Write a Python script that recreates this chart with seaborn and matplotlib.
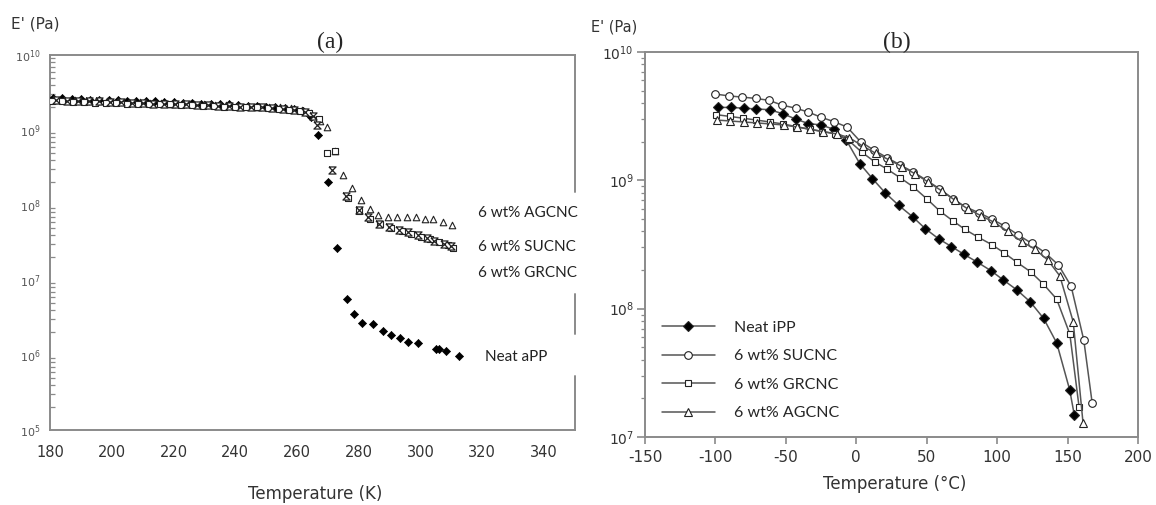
import numpy as np
import pandas as pd
import seaborn as sns
import matplotlib
matplotlib.use("Agg")
import matplotlib.pyplot as plt
from matplotlib.ticker import LogLocator, FixedLocator, NullFormatter

# ---------------- Panel (a) data: E' vs Temperature (K) ----------------
a_neat_T = [181, 184, 187, 190, 193, 196, 199, 202, 205, 208, 211, 214, 217, 220, 223, 226,
            229, 232, 235, 238, 241, 244, 247, 250, 253, 256, 259, 262, 264.5, 266.9, 270.1,
            272.9, 276.1, 278.5, 281.0, 284.6, 287.9, 290.5, 293.3, 296.0, 299.0, 305.0,
            305.8, 308.1, 312.4]
a_neat_E = [2.7e9, 2.65e9, 2.6e9, 2.6e9, 2.55e9, 2.55e9, 2.5e9, 2.5e9, 2.45e9, 2.45e9, 2.4e9,
            2.4e9, 2.35e9, 2.35e9, 2.3e9, 2.3e9, 2.25e9, 2.25e9, 2.2e9, 2.2e9, 2.15e9, 2.1e9,
            2.1e9, 2.05e9, 2.0e9, 1.95e9, 1.9e9, 1.8e9, 1.5e9, 8.6e8, 2.0e8, 2.7e7, 5.6e6,
            3.5e6, 2.7e6, 2.6e6, 2.1e6, 1.85e6, 1.7e6, 1.5e6, 1.45e6, 1.2e6, 1.2e6, 1.13e6,
            9.8e5]

a_su_T = [182, 185.5, 189, 192.5, 196, 199.5, 203, 206.5, 210, 213.5, 217, 220.5, 224, 227.5,
          231, 234.5, 238, 241.5, 245, 248.5, 252, 255.5, 259, 262.5, 265, 266.3, 271.2,
          275.9, 279.9, 283.1, 286.5, 289.8, 293, 296, 299, 302, 304.5, 307.5, 310]
a_su_E = [2.5e9, 2.45e9, 2.45e9, 2.4e9, 2.4e9, 2.35e9, 2.35e9, 2.3e9, 2.3e9, 2.25e9, 2.25e9,
          2.2e9, 2.2e9, 2.15e9, 2.15e9, 2.1e9, 2.1e9, 2.05e9, 2.0e9, 2.0e9, 1.95e9, 1.9e9,
          1.85e9, 1.75e9, 1.55e9, 1.15e9, 2.9e8, 1.3e8, 8.5e7, 6.9e7, 5.6e7, 5.1e7, 4.6e7,
          4.3e7, 4.0e7, 3.6e7, 3.35e7, 3.0e7, 2.8e7]

a_gr_T = [180.5, 184, 187.5, 191, 194.5, 198, 201.5, 205, 208.5, 212, 215.5, 219, 222.5, 226,
          229.5, 233, 236.5, 240, 243.5, 247, 250.5, 254, 257.5, 261, 264, 267, 269.8, 272.3,
          276.5, 280, 283.5, 287, 290.5, 294, 297, 300, 303, 306, 309, 310.5]
a_gr_E = [2.4e9, 2.4e9, 2.35e9, 2.35e9, 2.3e9, 2.3e9, 2.3e9, 2.25e9, 2.25e9, 2.2e9, 2.2e9,
          2.2e9, 2.15e9, 2.15e9, 2.1e9, 2.1e9, 2.05e9, 2.05e9, 2.0e9, 2.0e9, 1.95e9, 1.9e9,
          1.85e9, 1.8e9, 1.7e9, 1.4e9, 5.0e8, 5.3e8, 1.25e8, 8.2e7, 6.6e7, 5.5e7, 5.0e7,
          4.5e7, 4.1e7, 3.8e7, 3.5e7, 3.2e7, 2.9e7, 2.7e7]

a_ag_T = [181, 184.5, 188, 191.5, 195, 198.5, 202, 205.5, 209, 212.5, 216, 219.5, 223, 226.5,
          230, 233.5, 237, 240.5, 244, 247.5, 251, 254.5, 258, 261.5, 264.5, 267.5, 269.6,
          272.3, 275, 277.7, 280.7, 283.6, 286.3, 289.6, 292.5, 295.5, 298.5, 301.5, 304.1,
          307.2, 310.1]
a_ag_E = [2.55e9, 2.5e9, 2.5e9, 2.45e9, 2.45e9, 2.4e9, 2.4e9, 2.35e9, 2.35e9, 2.3e9, 2.3e9,
          2.25e9, 2.25e9, 2.2e9, 2.2e9, 2.15e9, 2.15e9, 2.1e9, 2.1e9, 2.05e9, 2.0e9, 2.0e9,
          1.95e9, 1.85e9, 1.7e9, 1.3e9, 1.1e9, 5.3e8, 2.5e8, 1.67e8, 1.15e8, 8.9e7, 7.4e7,
          7.0e7, 7.0e7, 6.85e7, 6.85e7, 6.6e7, 6.45e7, 6.0e7, 5.4e7]

a_labels = ["6 wt% AGCNC", "6 wt% SUCNC", "6 wt% GRCNC", "Neat aPP"]

# ---------------- Panel (b) data: E' vs Temperature (°C) ----------------
b_neat_T = [-98.5, -89, -80, -71, -61.5, -52, -43, -34, -25, -16, -7, 2.5, 11.5, 20.5, 30, 40,
            49, 58.5, 67.5, 76.5, 86, 95.5, 104.5, 114, 123.5, 133, 142.3, 151.5, 154.8]
b_neat_E = [3.7e9, 3.7e9, 3.65e9, 3.6e9, 3.55e9, 3.3e9, 3.0e9, 2.77e9, 2.7e9, 2.5e9, 2.05e9,
            1.35e9, 1.03e9, 8.0e8, 6.4e8, 5.2e8, 4.2e8, 3.5e8, 3.05e8, 2.65e8, 2.3e8, 1.98e8,
            1.67e8, 1.4e8, 1.13e8, 8.4e7, 5.4e7, 2.33e7, 1.48e7]

b_su_T = [-100, -90.5, -81, -71.5, -62, -52.5, -43, -34, -25, -16, -6.5, 3, 12.5, 22, 31, 40.5,
          50, 59, 68.5, 77.5, 87, 96, 105.5, 115, 124.5, 134, 143.5, 152.5, 161.5, 167.5]
b_su_E = [4.7e9, 4.55e9, 4.45e9, 4.35e9, 4.2e9, 3.85e9, 3.65e9, 3.4e9, 3.1e9, 2.87e9, 2.6e9,
          2.0e9, 1.72e9, 1.5e9, 1.32e9, 1.16e9, 1.0e9, 8.6e8, 7.2e8, 6.2e8, 5.6e8, 5.0e8,
          4.4e8, 3.75e8, 3.23e8, 2.73e8, 2.19e8, 1.5e8, 5.7e7, 1.83e7]

b_gr_T = [-99.5, -90, -80.5, -71, -61.5, -52, -42.5, -33, -24, -15, -5.7, 3.8, 13.2, 21.5, 31,
          40.4, 49.9, 59.4, 68.4, 77.1, 86.6, 96.1, 105, 114, 123.7, 132.7, 142.2, 151.6, 158.2]
b_gr_E = [3.25e9, 3.15e9, 3.05e9, 2.95e9, 2.85e9, 2.75e9, 2.62e9, 2.5e9, 2.4e9, 2.3e9, 2.06e9,
          1.66e9, 1.39e9, 1.23e9, 1.05e9, 8.9e8, 7.2e8, 5.75e8, 4.85e8, 4.15e8, 3.6e8, 3.16e8,
          2.72e8, 2.3e8, 1.94e8, 1.56e8, 1.19e8, 6.35e7, 1.7e7]

b_ag_T = [-99, -89.5, -80, -70.5, -61, -51.5, -42, -33, -23.5, -14, -5, 4.5, 14, 23, 32.5, 42,
          51, 60.5, 70, 79, 88.5, 98, 107.5, 117.5, 127, 136, 144.5, 154, 161]
b_ag_E = [2.95e9, 2.9e9, 2.85e9, 2.8e9, 2.75e9, 2.7e9, 2.6e9, 2.5e9, 2.4e9, 2.3e9, 2.15e9,
          1.85e9, 1.62e9, 1.45e9, 1.28e9, 1.12e9, 9.7e8, 8.3e8, 7.0e8, 6.0e8, 5.3e8, 4.7e8,
          4.0e8, 3.33e8, 2.9e8, 2.39e8, 1.8e8, 7.9e7, 1.28e7]

b_labels = ["Neat iPP", "6 wt% SUCNC", "6 wt% GRCNC", "6 wt% AGCNC"]

a_xticks = [180, 200, 220, 240, 260, 280, 300, 320, 340]
b_xticks = [-150, -100, -50, 0, 50, 100, 150, 200]

# ---------------- Figure ----------------
sns.set_style("white")
plt.rcParams["font.family"] = ["DejaVu Sans"]
plt.rcParams["axes.unicode_minus"] = False
W, H = 1156, 505
fig = plt.figure(figsize=(W / 100, H / 100), dpi=100)

def px_ax(l, r, t, b):
    return fig.add_axes([l / W, 1 - b / H, (r - l) / W, (b - t) / H])

ax_a = px_ax(50, 575, 55, 430)
ax_b = px_ax(645, 1138, 52, 437)

spine_c = "#8a8a8a"
tick_c = "#555555"
hourglass = [(-1, 1), (1, 1), (-1, -1), (1, -1), (-1, 1)]

# ---- Panel (a) ----
da = {
    "neat": pd.DataFrame({"T": a_neat_T, "E": a_neat_E}),
    "su": pd.DataFrame({"T": a_su_T, "E": a_su_E}),
    "gr": pd.DataFrame({"T": a_gr_T, "E": a_gr_E}),
    "ag": pd.DataFrame({"T": a_ag_T, "E": a_ag_E}),
}
sns.scatterplot(data=da["neat"], x="T", y="E", ax=ax_a, marker="D", s=17,
                color="black", edgecolor="black", linewidth=0.5, zorder=3)
sns.scatterplot(data=da["ag"], x="T", y="E", ax=ax_a, marker="^", s=22,
                color="white", edgecolor="#222222", linewidth=0.8, zorder=4)
sns.scatterplot(data=da["gr"], x="T", y="E", ax=ax_a, marker="s", s=20,
                color="white", edgecolor="#222222", linewidth=0.8, zorder=4)
sns.scatterplot(data=da["su"], x="T", y="E", ax=ax_a, marker=hourglass, s=26,
                color="white", edgecolor="#222222", linewidth=0.9, zorder=5)

XMIN_A, XMAX_A = 180, 350
ax_a.set_yscale("log")
ax_a.set_xlim(XMIN_A, XMAX_A)
ax_a.set_ylim(1e5, 1e10)
ax_a.xaxis.set_major_locator(FixedLocator(a_xticks))
ax_a.yaxis.set_major_locator(LogLocator(base=10, numticks=10))
ax_a.yaxis.set_minor_locator(LogLocator(base=10, subs=np.arange(2, 10), numticks=20))
ax_a.yaxis.set_minor_formatter(NullFormatter())
ax_a.set_xlabel("")
ax_a.set_ylabel("")
for s in ["left", "bottom", "top"]:
    ax_a.spines[s].set_color(spine_c)
    ax_a.spines[s].set_linewidth(1.4)
ax_a.spines["right"].set_visible(False)
for y0, y1 in [(0.636, 1.0), (0.257, 0.364), (0.0, 0.144)]:
    ax_a.axvline(XMAX_A, ymin=y0, ymax=y1, color=spine_c, lw=1.4, clip_on=False)
ax_a.tick_params(axis="x", which="major", direction="inout", length=9, width=1.2,
                 color=spine_c, labelsize=10.5, labelcolor="#333333", pad=6)
ax_a.tick_params(axis="y", which="major", direction="out", length=6, width=1.2,
                 color=spine_c, labelsize=8, labelcolor=tick_c, pad=1)
ax_a.tick_params(axis="y", which="minor", direction="in", length=3.5, width=0.9,
                 color=spine_c, left=True)

lab_font = dict(family=["Lato", "DejaVu Sans"], fontsize=11, color="#222222")
ax_a.text(0.815, 0.579, a_labels[0], transform=ax_a.transAxes, va="center", ha="left", **lab_font)
ax_a.text(0.815, 0.488, a_labels[1], transform=ax_a.transAxes, va="center", ha="left", **lab_font)
ax_a.text(0.815, 0.419, a_labels[2], transform=ax_a.transAxes, va="center", ha="left", **lab_font)
ax_a.text(0.829, 0.195, a_labels[3], transform=ax_a.transAxes, va="center", ha="left", **lab_font)

# ---- Panel (b) ----
line_c = "#555555"
series_b = [
    (b_neat_T, b_neat_E, "D", "black", 5.5, b_labels[0]),
    (b_su_T, b_su_E, "o", "white", 5.5, b_labels[1]),
    (b_gr_T, b_gr_E, "s", "white", 4.8, b_labels[2]),
    (b_ag_T, b_ag_E, "^", "white", 5.5, b_labels[3]),
]
for T, E, m, fc, ms, lab in series_b:
    sns.lineplot(x=T, y=E, ax=ax_b, sort=False, color=line_c, lw=1.1, marker=m,
                 markersize=ms, markerfacecolor=fc, markeredgecolor="#222222",
                 markeredgewidth=0.8, label=lab)

ax_b.set_yscale("log")
ax_b.set_xlim(-150, 200)
ax_b.set_ylim(1e7, 1e10)
ax_b.xaxis.set_major_locator(FixedLocator(b_xticks))
ax_b.yaxis.set_major_locator(LogLocator(base=10, numticks=10))
ax_b.yaxis.set_minor_locator(LogLocator(base=10, subs=np.arange(2, 10), numticks=20))
ax_b.yaxis.set_minor_formatter(NullFormatter())
ax_b.set_xlabel("")
ax_b.set_ylabel("")
for s in ["left", "bottom", "top", "right"]:
    ax_b.spines[s].set_color(spine_c)
    ax_b.spines[s].set_linewidth(1.4)
ax_b.tick_params(axis="x", which="major", direction="out", length=5, width=1.2,
                 color=spine_c, labelsize=11, labelcolor="#333333", pad=4, bottom=True)
ax_b.tick_params(axis="y", which="major", direction="out", length=6, width=1.2,
                 color=spine_c, labelsize=10, labelcolor="#333333", pad=2, left=True)
ax_b.tick_params(axis="y", which="minor", direction="out", length=3, width=0.9,
                 color=spine_c, left=True)

leg = ax_b.legend(loc="upper left", bbox_to_anchor=(0.005, 0.34), frameon=False,
                  handlelength=3.3, handletextpad=1.2, labelspacing=0.9,
                  prop={"family": ["Lato", "DejaVu Sans"], "size": 11.5})

# ---- Figure texts ----
fig.text(11 / W, 1 - 24 / H, "E' (Pa)", ha="left", va="center", fontsize=11, color="#333333")
fig.text(591 / W, 1 - 27 / H, "E' (Pa)", ha="left", va="center", fontsize=10.5, color="#333333")
fig.text(330 / W, 1 - 42 / H, "(a)", ha="center", va="center", fontsize=17,
         family=["Liberation Serif", "DejaVu Serif"])
fig.text(897 / W, 1 - 42 / H, "(b)", ha="center", va="center", fontsize=17,
         family=["Liberation Serif", "DejaVu Serif"])
fig.text(315 / W, 1 - 494 / H, "Temperature (K)", ha="center", va="center", fontsize=12,
         color="#333333")
fig.text(895 / W, 1 - 484 / H, "Temperature (°C)", ha="center", va="center", fontsize=12,
         color="#333333")

fig.savefig("out.png", dpi=100, facecolor="white")
